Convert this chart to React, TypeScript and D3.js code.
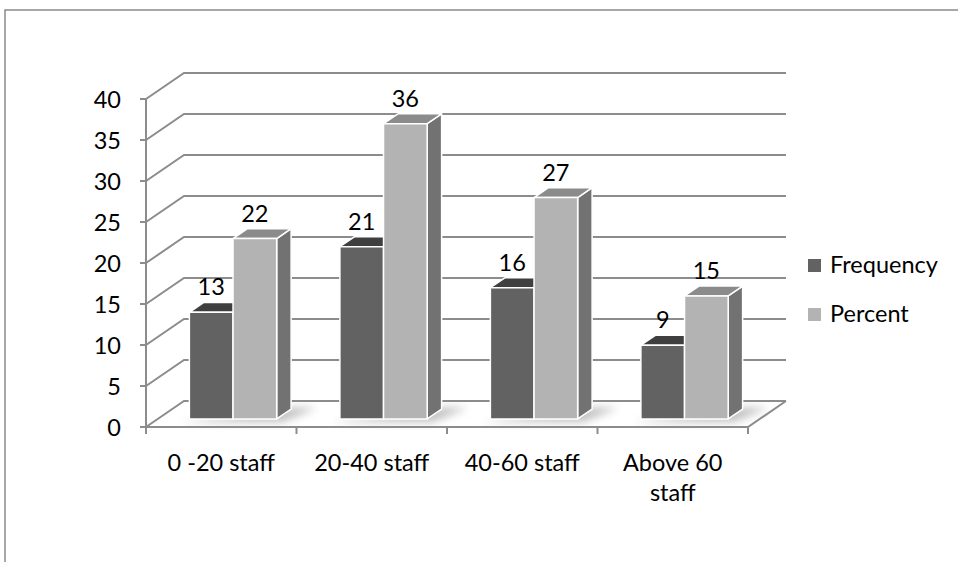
import React from "react";
import * as d3 from "d3";

// Staff-size groups and the two series plotted for each
const categories = ["0 -20 staff", "20-40 staff", "40-60 staff", "Above 60 staff"];
const seriesNames = ["Frequency", "Percent"];
const frequency = [13, 21, 16, 9];
const percent = [22, 36, 27, 15];
const yTicks = [0, 5, 10, 15, 20, 25, 30, 35, 40];

const W = 958;
const H = 562;
const FONT = "Lato, 'Open Sans', sans-serif";

// Oblique 3-D projection: depth t in [0,1] shifts a point right and up
const DEPTH_DX = 38;
const DEPTH_DY = -26;
const BAR_T0 = 0.31;
const BAR_T1 = 0.69;

const faceColors = {
  Frequency: { front: "#626262", top: "#3f3f3f", side: "#505050" },
  Percent: { front: "#b3b3b3", top: "#8b8b8b", side: "#727272" },
};

function wrapLabel(s: string): string[] {
  if (s.length <= 12) return [s];
  const i = s.lastIndexOf(" ");
  return [s.slice(0, i), s.slice(i + 1)];
}

export default function App() {
  const x = d3
    .scaleBand<string>()
    .domain(categories)
    .range([146, 748])
    .paddingInner(0.42)
    .paddingOuter(0.21);
  const sub = d3.scaleBand<string>().domain(seriesNames).range([0, x.bandwidth()]);
  const y = d3.scaleLinear().domain([0, 40]).range([427, 99]);

  const left = 146;
  const right = 748;
  const step = x.step();
  const boundaries = d3.range(categories.length + 1).map((i) => left + i * step);

  const P = (px: number, v: number, t: number): [number, number] => [px + t * DEPTH_DX, y(v) + t * DEPTH_DY];
  const poly = (pts: [number, number][]) => "M" + pts.map((p) => p.join(",")).join("L") + "Z";
  const line = (pts: [number, number][]) => "M" + pts.map((p) => p.join(",")).join("L");

  const values: Record<string, number[]> = { Frequency: frequency, Percent: percent };

  return (
    <svg width={W} height={H} style={{ display: "block", position: "absolute", left: 0, top: 0 }}>
      <defs>
        <filter id="soft" x="-50%" y="-50%" width="200%" height="200%">
          <feGaussianBlur stdDeviation="4" />
        </filter>
      </defs>
      <rect width={W} height={H} fill="#fff" />
      {/* outer frame */}
      <path d={`M5,${H}L5,10L${W},10`} fill="none" stroke="#8a8a8a" strokeWidth={1.5} />

      {/* back wall and side wall gridlines */}
      {yTicks.map((v) => (
        <path
          key={"g" + v}
          d={line([P(left, v, 0), P(left, v, 1), P(right, v, 1)])}
          fill="none"
          stroke="#8c8c8c"
          strokeWidth={2}
        />
      ))}
      {/* floor right edge and front edge */}
      <path d={line([P(left, 0, 0), P(right, 0, 0), P(right, 0, 1)])} fill="none" stroke="#8c8c8c" strokeWidth={2} />

      {/* vertical axis with ticks */}
      <line x1={left} x2={left} y1={y(40)} y2={y(0)} stroke="#8c8c8c" strokeWidth={2} />
      {yTicks.map((v) => (
        <g key={"t" + v}>
          <line x1={left - 6} x2={left} y1={y(v)} y2={y(v)} stroke="#8c8c8c" strokeWidth={2} />
          <text x={left - 25} y={y(v) + 8.5} textAnchor="end" fontFamily={FONT} fontSize={23.5} fill="#000">
            {v}
          </text>
        </g>
      ))}
      {boundaries.map((bx, i) => (
        <line key={"xt" + i} x1={bx} x2={bx} y1={y(0)} y2={y(0) + 7} stroke="#8c8c8c" strokeWidth={2} />
      ))}

      {/* floor shadows */}
      {categories.map((c) => {
        const a = x(c)!;
        const b = a + x.bandwidth();
        return (
          <path
            key={"s" + c}
            d={poly([P(a - 4, 0, BAR_T0 - 0.12), P(b + 10, 0, BAR_T0 - 0.12), P(b + 24, 0, BAR_T1 + 0.05), P(b, 0, BAR_T1 + 0.05)])}
            fill="#8a8a8a"
            opacity={0.55}
            filter="url(#soft)"
          />
        );
      })}

      {/* columns */}
      {categories.map((c, ci) =>
        seriesNames.map((s) => {
          const a = x(c)! + sub(s)!;
          const b = a + sub.bandwidth();
          const v = values[s][ci];
          const col = faceColors[s as "Frequency" | "Percent"];
          const front = poly([P(a, v, BAR_T0), P(b, v, BAR_T0), P(b, 0, BAR_T0), P(a, 0, BAR_T0)]);
          const top = poly([P(a, v, BAR_T0), P(b, v, BAR_T0), P(b, v, BAR_T1), P(a, v, BAR_T1)]);
          const side = poly([P(b, v, BAR_T0), P(b, v, BAR_T1), P(b, 0, BAR_T1), P(b, 0, BAR_T0)]);
          const lx = (P(a, v, BAR_T0)[0] + P(b, v, BAR_T0)[0]) / 2;
          const ly = P(a, v, BAR_T1)[1] - 7;
          return (
            <g key={c + s}>
              <path d={side} fill={col.side} stroke="#fff" strokeWidth={1.5} strokeLinejoin="round" />
              <path d={top} fill={col.top} stroke="#fff" strokeWidth={1.5} strokeLinejoin="round" />
              <path d={front} fill={col.front} stroke="#fff" strokeWidth={1.5} strokeLinejoin="round" />
              <text x={lx} y={ly} textAnchor="middle" fontFamily={FONT} fontSize={23.5} fill="#000">
                {v}
              </text>
            </g>
          );
        })
      )}

      {/* category labels */}
      {categories.map((c, i) => (
        <text key={"c" + c} textAnchor="middle" fontFamily={FONT} fontSize={23.5} fill="#000">
          {wrapLabel(c).map((ln, j) => (
            <tspan key={j} x={left + (i + 0.5) * step} y={471 + j * 30}>
              {ln}
            </tspan>
          ))}
        </text>
      ))}

      {/* legend */}
      {seriesNames.map((s, i) => (
        <g key={"l" + s} transform={`translate(808,${259 + i * 49})`}>
          <rect width={13} height={13} fill={faceColors[s as "Frequency" | "Percent"].front} />
          <text x={22} y={14} fontFamily={FONT} fontSize={23.5} fill="#000">
            {s}
          </text>
        </g>
      ))}
    </svg>
  );
}
